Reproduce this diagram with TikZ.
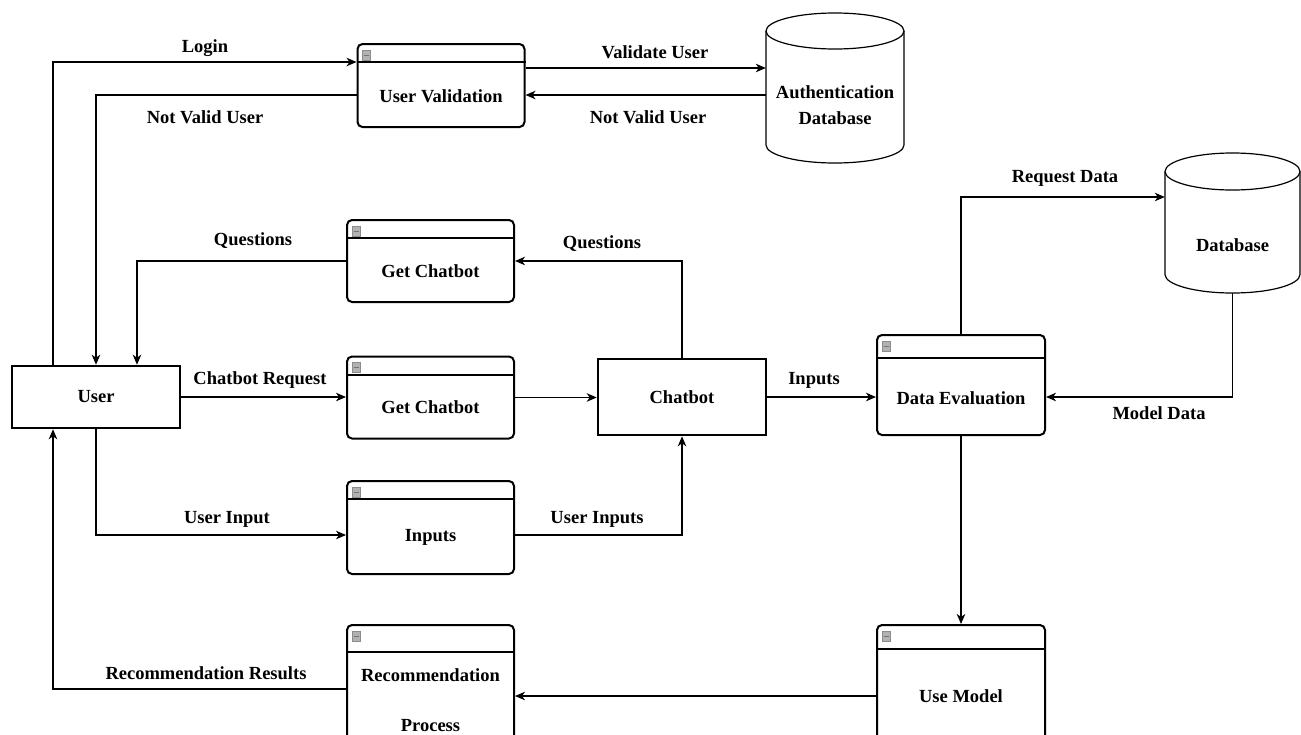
\documentclass[tikz,border=0pt]{standalone}
\usepackage{fontspec}
\setmainfont{Liberation Serif}
\usetikzlibrary{arrows.meta}
\tikzset{
  hbox/.style={draw, line width=2pt, rounded corners=5pt, minimum width=167pt, inner sep=0pt},
  sbox/.style={draw, line width=2.6pt, minimum width=168pt, inner sep=0pt},
  ghost/.style={draw=none, inner sep=0pt},
  txt/.style={font=\fontsize{18.5}{22}\selectfont\bfseries, inner sep=0pt, align=center},
  lbl/.style={font=\fontsize{18.5}{22}\selectfont\bfseries, inner sep=0pt},
  conn/.style={line width=1.2pt, -{Stealth[length=10pt,width=8.5pt,inset=3pt]}},
  cyl/.style={line width=1.2pt},
  hdr/.style={line width=2pt},
  icon/.style={fill=black!30, draw=black!45, line width=0.4pt}
}
\newcommand{\hicon}[1]{%
  \draw[icon] ([xshift=6pt,yshift=-7pt]#1.north west) rectangle ++(8pt,-10pt);
  \draw[black!55, line width=0.8pt] ([xshift=7.5pt,yshift=-12pt]#1.north west) -- ++(5pt,0);
}
\begin{document}
\begin{tikzpicture}[x=1pt,y=-1pt]
\useasboundingbox (0,0) rectangle (1301,734);
\clip (0,0) rectangle (1301,734);
\fill[white] (0,0) rectangle (1301,734);

% boxes with header
\node[hbox, minimum height=83pt] (uv) at (441,85.5) {};
\draw[hdr] ([yshift=-19pt]uv.north west) -- ([yshift=-19pt]uv.north east);
\hicon{uv}
\node[txt] (uvT) at (441,96) {User Validation};

\node[hbox, minimum height=82pt] (gc1) at (430.5,261) {};
\draw[hdr] ([yshift=-19pt]gc1.north west) -- ([yshift=-19pt]gc1.north east);
\hicon{gc1}
\node[txt] (gc1T) at (430.5,271) {Get Chatbot};

\node[hbox, minimum height=82pt] (gc2) at (430.5,397.5) {};
\draw[hdr] ([yshift=-19pt]gc2.north west) -- ([yshift=-19pt]gc2.north east);
\hicon{gc2}
\node[txt] (gc2T) at (430.5,407) {Get Chatbot};

\node[hbox, minimum height=93pt] (inp) at (430.5,527.5) {};
\draw[hdr] ([yshift=-19pt]inp.north west) -- ([yshift=-19pt]inp.north east);
\hicon{inp}
\node[txt] (inpT) at (430.5,537) {Inputs};

\node[hbox, minimum height=150pt] (rp) at (430.5,700) {};
\draw[hdr] ([yshift=-28pt]rp.north west) -- ([yshift=-28pt]rp.north east);
\hicon{rp}
\node[txt] (rpT) at (430.5,700) {Recommendation\\[28pt]Process};

\node[hbox, minimum width=168pt, minimum height=100pt] (de) at (961,385) {};
\draw[hdr] ([yshift=-24pt]de.north west) -- ([yshift=-24pt]de.north east);
\hicon{de}
\node[txt] (deT) at (961,398) {Data Evaluation};

\node[hbox, minimum width=168pt, minimum height=142pt] (um) at (961,696) {};
\draw[hdr] ([yshift=-25pt]um.north west) -- ([yshift=-25pt]um.north east);
\hicon{um}
\node[txt] (umT) at (961,696) {Use Model};

% plain boxes
\node[sbox, minimum height=62pt] (user) at (96,397) {};
\node[txt] (userT) at (96,397) {User};
\node[sbox, minimum height=76pt] (chat) at (682,397) {};
\node[txt] (chatT) at (682,397) {Chatbot};

% cylinders
\node[ghost, minimum width=138pt, minimum height=150pt] (auth) at (835,88) {};
\draw[cyl] (835,31) ellipse [x radius=69pt, y radius=18pt];
\draw[cyl] (766,31) -- (766,145) arc[start angle=180, end angle=360, x radius=69pt, y radius=18pt] -- (904,31);
\node[txt] (authT) at (835,105) {Authentication\\[4pt]Database};

\node[ghost, minimum width=135pt, minimum height=140pt] (db) at (1232.5,223) {};
\draw[cyl] (1232.5,171.5) ellipse [x radius=67.5pt, y radius=18.5pt];
\draw[cyl] (1165,171.5) -- (1165,274.5) arc[start angle=180, end angle=360, x radius=67.5pt, y radius=18.5pt] -- (1300,171.5);
\node[txt] (dbT) at (1232.5,245) {Database};

% connectors
\draw[conn] ([xshift=-43pt]user.north) |- ([yshift=-19pt]uv.north west);
\draw[conn] ([yshift=-9.5pt]uv.west) -| (user.north);
\draw[conn] ([yshift=17.5pt]uv.east) -- ([yshift=17.5pt]uv.east -| auth.west);
\draw[conn] ([yshift=-9.5pt]uv.east -| auth.west) -- ([yshift=-9.5pt]uv.east);
\draw[conn] (gc1.west) -| ([xshift=41pt]user.north);
\draw[conn] (chat.north) |- (gc1.east);
\draw[conn] (user.east) -- (user.east -| gc2.west);
\draw[conn] (gc2.east) -- (gc2.east -| chat.west);
\draw[conn] (user.south) |- ([yshift=-7.5pt]inp.west);
\draw[conn] ([yshift=-7.5pt]inp.east) -| (chat.south);
\draw[conn] (chat.east) -- (chat.east -| de.west);
\draw[conn] (de.north) |- ([yshift=26pt]db.west);
\draw[conn] (db.south) |- (chat.east -| de.east);
\draw[conn] (de.south) -- (um.north);
\draw[conn] (um.west) -- (um.west -| rp.east);
\draw[conn] ([yshift=11pt]rp.west) -| ([xshift=-43pt]user.south);

% labels
\node[lbl] (l1) at (205,48) {Login};
\node[lbl] (l2) at (205,117) {Not Valid User};
\node[lbl] (l3) at (655,52) {Validate User};
\node[lbl] (l4) at (648,117) {Not Valid User};
\node[lbl] (l5) at (253,241) {Questions};
\node[lbl] (l6) at (602,244) {Questions};
\node[lbl] (l7) at (260,380) {Chatbot Request};
\node[lbl] (l8) at (814,380) {Inputs};
\node[lbl] (l9) at (1065,178) {Request Data};
\node[lbl] (l10) at (1159,413) {Model Data};
\node[lbl] (l11) at (227,519) {User Input};
\node[lbl] (l12) at (597,519) {User Inputs};
\node[lbl] (l13) at (206,673) {Recommendation Results};
\end{tikzpicture}
\end{document}
